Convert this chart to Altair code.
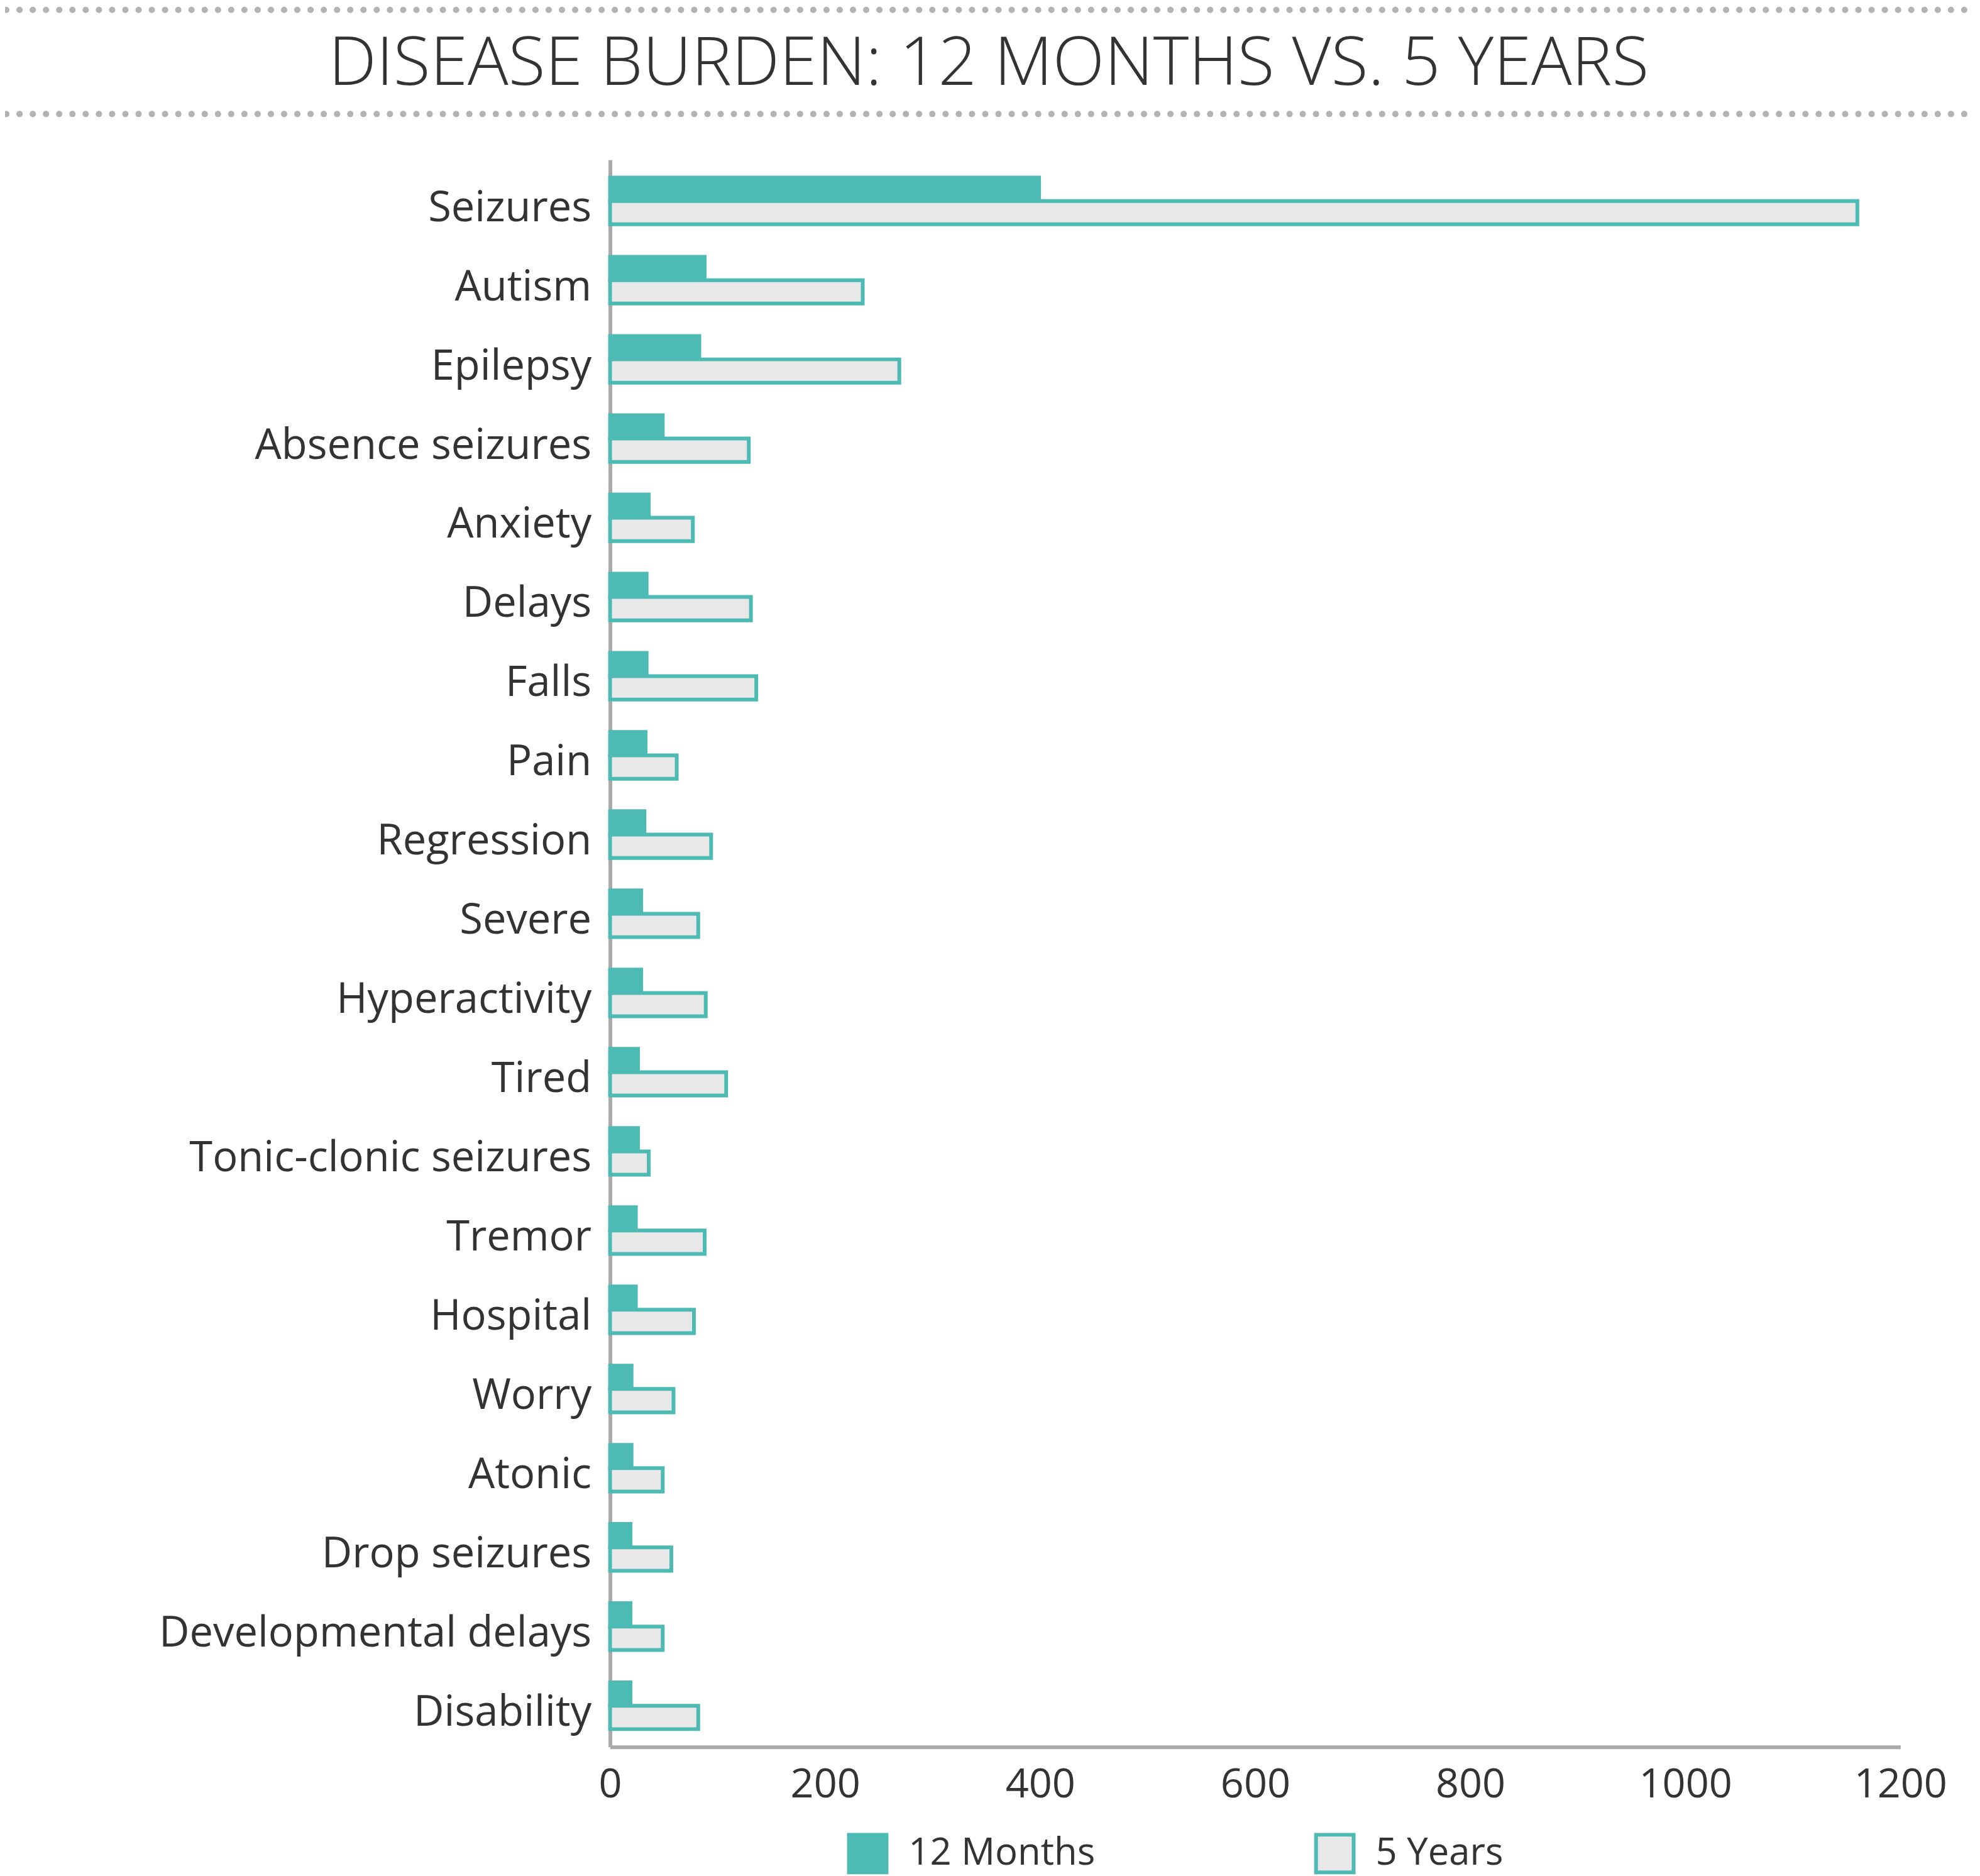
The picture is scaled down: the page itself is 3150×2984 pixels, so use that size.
import altair as alt
import pandas as pd

categories = ["Seizures", "Autism", "Epilepsy", "Absence seizures", "Anxiety", "Delays",
              "Falls", "Pain", "Regression", "Severe", "Hyperactivity", "Tired",
              "Tonic-clonic seizures", "Tremor", "Hospital", "Worry", "Atonic",
              "Drop seizures", "Developmental delays", "Disability"]
months12 = [399, 88, 83, 49, 36, 34, 34, 33, 32, 29, 29, 26, 26, 24, 24, 20, 20, 19, 19, 19]
years5 = [1160, 235, 269, 129, 77, 131, 136, 62, 94, 82, 89, 108, 36, 88, 78, 59, 49, 57, 49, 82]
series = ["12 Months", "5 Years"]
x_ticks = [0, 200, 400, 600, 800, 1000, 1200]
title_text = ["DISEASE BURDEN: 12 MONTHS VS. 5 YEARS"]

TEAL = "#4dbab4"
LIGHT = "#e8e8e8"
TXT = "#333333"
GRAY = "#aaaaaa"
FONT = "Open Sans"

rows = []
for c, a, b in zip(categories, months12, years5):
    rows.append({"category": c, "series": series[0], "value": a})
    rows.append({"category": c, "series": series[1], "value": b})
df = pd.DataFrame(rows)

bars = alt.Chart(df).mark_bar(stroke=TEAL, strokeWidth=6).encode(
    x=alt.X("value:Q",
            scale=alt.Scale(domain=[0, 1200], nice=False),
            axis=alt.Axis(values=x_ticks, format="d", title=None, grid=False, ticks=False,
                          labelFontSize=65, labelFont=FONT, labelColor=TXT,
                          labelFlush=False, labelPadding=29,
                          domainColor=GRAY, domainWidth=6)),
    y=alt.Y("category:N", sort=categories,
            scale=alt.Scale(paddingInner=0.41, paddingOuter=0.225),
            axis=alt.Axis(title=None, ticks=False, labelFontSize=67, labelFont=FONT,
                          labelColor=TXT, labelPadding=30, labelOffset=12,
                          labelLimit=1000, domainColor=GRAY, domainWidth=6)),
    yOffset=alt.YOffset("series:N", scale=alt.Scale(domain=series)),
    fill=alt.Fill("series:N",
                  scale=alt.Scale(domain=series, range=[TEAL, LIGHT]),
                  legend=alt.Legend(title=None, orient="none", legendX=378, legendY=2668,
                                    direction="horizontal", symbolType="square",
                                    symbolSize=3600, symbolStrokeWidth=6,
                                    symbolStrokeColor=TEAL,
                                    labelFontSize=60, labelFont=FONT, labelColor=TXT,
                                    labelLimit=1000,
                                    labelOffset=32, columnPadding=340, padding=0)),
)

dots = alt.Chart(pd.DataFrame({"k": [0, 1], "yy": [-239, -73]})).mark_rule(
    stroke="#b3b3b3", strokeWidth=10, strokeDash=[0.1, 21], strokeCap="round"
).encode(
    x=alt.value(-963), x2=alt.value(2177), y=alt.Y("yy:Q", scale=None)
)

title = alt.Chart(pd.DataFrame({"t": title_text})).mark_text(
    font=FONT, fontSize=108, fontWeight=300, color=TXT, align="center", baseline="middle"
).encode(
    text="t:N", x=alt.value(604), y=alt.value(-151)
)

chart = alt.layer(bars, dots, title).properties(
    width=2058, height=2531,
    padding={"left": 965, "top": 243, "right": 119, "bottom": 202},
    autosize=alt.AutoSizeParams(type="none"),
).configure_view(stroke=None)

chart.save("out.html", embed_options={"renderer": "svg", "actions": False})
